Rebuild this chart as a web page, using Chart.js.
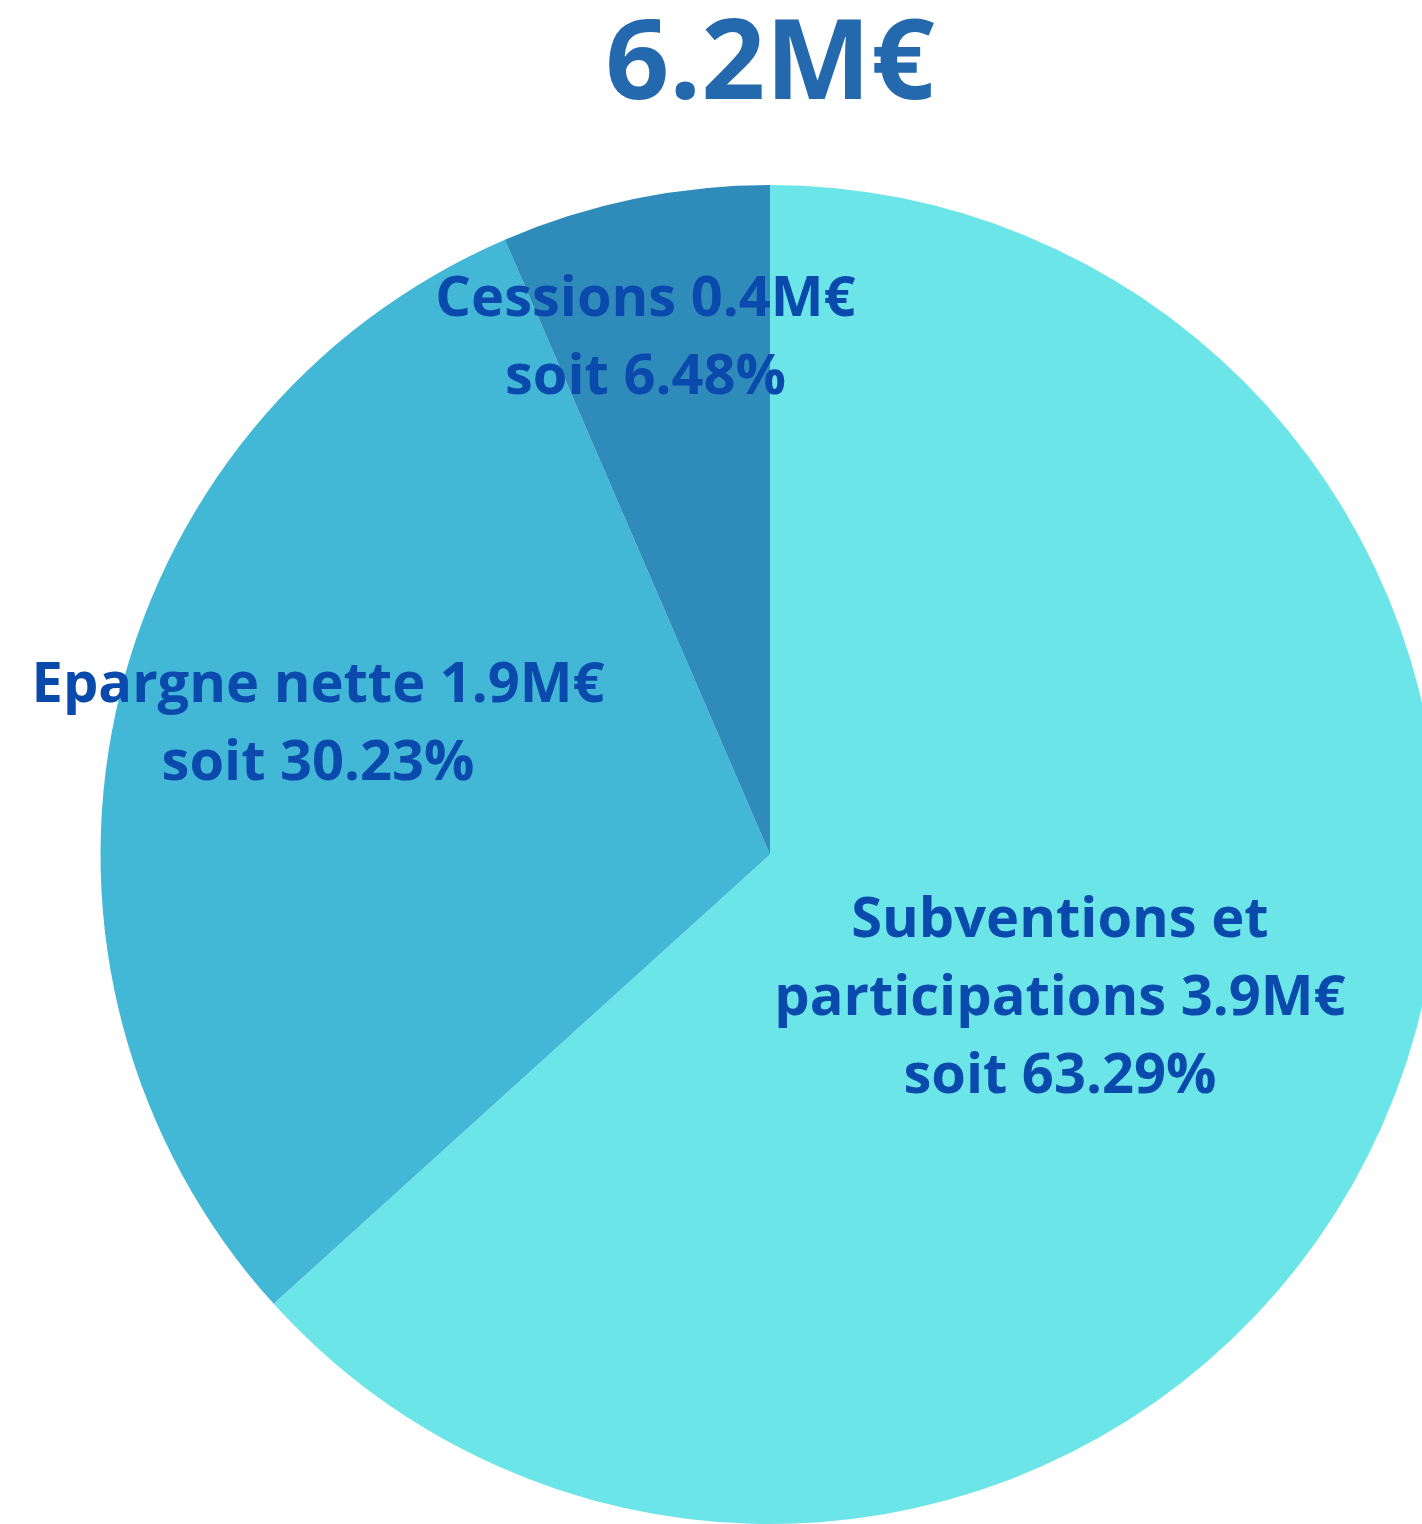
<!DOCTYPE html>
<html>
<head>
<meta charset="utf-8">
<script src="https://cdn.jsdelivr.net/npm/chart.js@4"></script>
<style>
  html, body { margin: 0; padding: 0; background: #fff; overflow: hidden; width: 1422px; height: 1524px; }
  #title { position: absolute; left: 0; top: 0; width: 1540px; text-align: center;
           font: bold 112px/1 "Open Sans", sans-serif; color: #2468ad; }
  #wrap { position: absolute; left: 0; top: 0; width: 1540px; height: 1524px; }
</style>
</head>
<body>
<div id="wrap"><canvas id="pie"></canvas></div>
<div id="title">6.2M€</div>
<script>
// data
const categories = ['Subventions et participations', 'Epargne nette', 'Cessions'];
const amounts = [3.9, 1.9, 0.4];          // M€
const shares = [63.29, 30.23, 6.48];      // %
const labelLines = [
  ['Subventions et', 'participations 3.9M€', 'soit 63.29%'],
  ['Epargne nette 1.9M€', 'soit 30.23%'],
  ['Cessions 0.4M€', 'soit 6.48%']
];
const colors = ['#6ce5e8', '#43b7d6', '#2e8bba'];
// label anchors, as fractions of the radius from the pie centre
const labelAnchors = [[0.433, 0.216], [-0.675, -0.194], [-0.186, -0.770]];

const sliceLabels = {
  id: 'sliceLabels',
  afterDatasetsDraw(chart) {
    const ctx = chart.ctx;
    const arcs = chart.getDatasetMeta(0).data;
    ctx.save();
    ctx.font = 'bold 56px "Open Sans", sans-serif';
    ctx.fillStyle = '#0a4aad';
    ctx.textAlign = 'center';
    ctx.textBaseline = 'middle';
    arcs.forEach((arc, i) => {
      const { x, y, outerRadius } = arc.getProps(['x', 'y', 'outerRadius'], true);
      const cx = x + labelAnchors[i][0] * outerRadius;
      const cy = y + labelAnchors[i][1] * outerRadius;
      const lines = labelLines[i];
      const lh = 78;
      lines.forEach((t, j) => {
        ctx.fillText(t, cx, cy + (j - (lines.length - 1) / 2) * lh);
      });
    });
    ctx.restore();
  }
};

function draw() {
  new Chart(document.getElementById('pie'), {
    type: 'pie',
    data: {
      labels: categories,
      datasets: [{
        data: shares,
        backgroundColor: colors,
        borderWidth: 0
      }]
    },
    options: {
      responsive: true,
      maintainAspectRatio: false,
      animation: false,
      layout: { padding: { top: 185, bottom: 0, left: 0, right: 0 } },
      plugins: {
        legend: { display: false },
        tooltip: { enabled: false }
      }
    },
    plugins: [sliceLabels]
  });
}

document.fonts.load('bold 56px "Open Sans"').then(draw, draw);
</script>
</body>
</html>
